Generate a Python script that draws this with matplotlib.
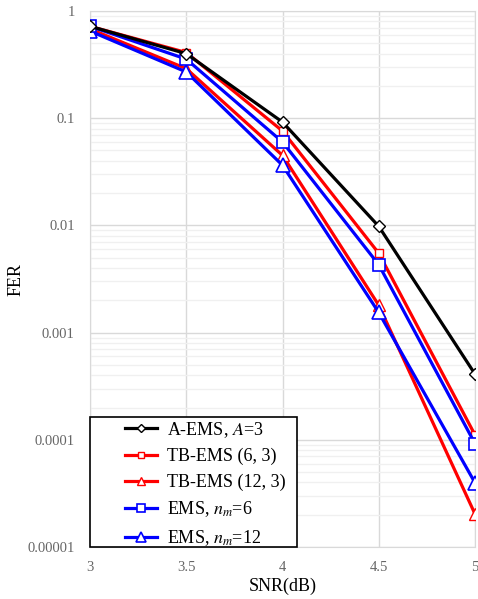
import matplotlib.pyplot as plt
import numpy as np
from matplotlib.patches import Rectangle

snr = [3, 3.5, 4, 4.5, 5]

a_ems = [0.72, 0.40, 0.092, 0.0098, 0.00041]
tb_6_3 = [0.72, 0.41, 0.076, 0.0055, 0.000111]
tb_12_3 = [0.68, 0.29, 0.045, 0.0018, 0.0000203]
ems_6 = [0.72, 0.356, 0.060, 0.0043, 0.000092]
ems_12 = [0.65, 0.27, 0.0364, 0.00154, 0.0000397]

plt.rcParams['font.family'] = ['Liberation Serif', 'DejaVu Serif']
plt.rcParams['mathtext.fontset'] = 'stix'

fig = plt.figure(figsize=(4.78, 5.99), dpi=100)
ax = fig.add_axes([90 / 478, 1 - 547 / 599, 385 / 478, 536 / 599])

lw = 2.3
ax.plot(snr, a_ems, color='black', lw=lw, marker='D', ms=6, mfc='white', mec='black', mew=1,
        label='A-EMS, $A$=3', zorder=5)
ax.plot(snr, tb_6_3, color='red', lw=lw, marker='s', ms=6, mfc='white', mec='red', mew=1,
        label='TB-EMS (6, 3)', zorder=4)
ax.plot(snr, tb_12_3, color='red', lw=lw, marker='^', ms=9, mfc='white', mec='red', mew=1,
        label='TB-EMS (12, 3)', zorder=3)
ax.plot(snr, ems_6, color='blue', lw=lw, marker='s', ms=8.5, mfc='white', mec='blue', mew=1.2,
        label='EMS, $n_m$=6', zorder=4)
ax.plot(snr, ems_12, color='blue', lw=lw, marker='^', ms=9.5, mfc='white', mec='blue', mew=1.2,
        label='EMS, $n_m$=12', zorder=3)

ax.set_yscale('log')
ax.set_xlim(3, 5)
ax.set_ylim(1e-5, 1)
ax.set_xticks([3, 3.5, 4, 4.5, 5])
ax.set_xticklabels(['3', '3.5', '4', '4.5', '5'])
ax.set_yticks([1e-5, 1e-4, 1e-3, 1e-2, 1e-1, 1])
ax.set_yticklabels(['0.00001', '0.0001', '0.001', '0.01', '0.1', '1'])
ax.yaxis.set_minor_locator(plt.matplotlib.ticker.LogLocator(base=10, subs=np.arange(2, 10)))
ax.yaxis.set_minor_formatter(plt.NullFormatter())

ax.grid(True, which='major', color='#d9d9d9', lw=1)
ax.grid(True, which='minor', axis='y', color='#f0f0f0', lw=1)
ax.set_axisbelow(True)
for s in ax.spines.values():
    s.set_color('#d9d9d9')
ax.tick_params(which='both', length=0, colors='#666666', labelsize=10.5)
ax.tick_params(axis='y', pad=11)
ax.tick_params(axis='x', pad=10)

ax.set_xlabel('SNR(dB)', fontsize=13, labelpad=3)
ax.set_ylabel('FER', fontsize=13, labelpad=2)

# legend frame drawn separately so the entries sit with a wide left margin
ax.add_patch(Rectangle((0, 0), 207 / 385, 130 / 536, transform=ax.transAxes,
                       facecolor='white', edgecolor='black', lw=1.2, zorder=10, clip_on=False))
leg = ax.legend(loc='center left', bbox_to_anchor=(35 / 385, 0.118), fontsize=13, frameon=False,
                handlelength=1.75, handletextpad=0.6, borderpad=0, labelspacing=0.47,
                borderaxespad=0, markerscale=0.7)
leg.set_zorder(11)

fig.savefig('out.png', dpi=100)
